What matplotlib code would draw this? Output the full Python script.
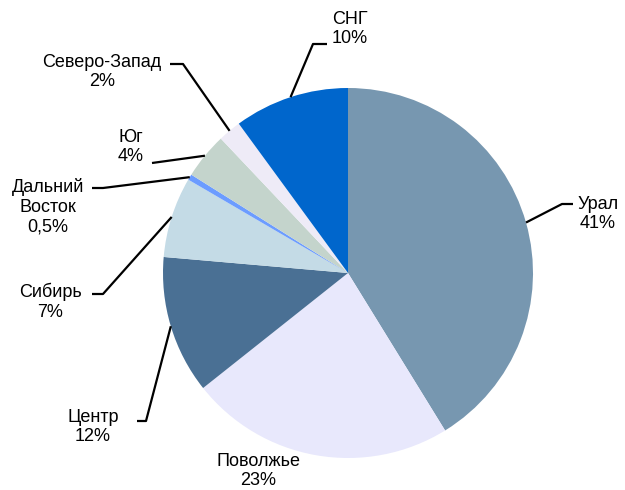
import numpy as np
import matplotlib
matplotlib.use("Agg")
import matplotlib.pyplot as plt

plt.rcParams['font.family'] = ['Liberation Sans', 'DejaVu Sans']

regions = ["Урал", "Поволжье", "Центр", "Сибирь", "Дальний\nВосток", "Юг", "Северо-Запад", "СНГ"]
shares = [41, 23, 12, 7, 0.5, 4, 2, 10]
share_labels = ["41%", "23%", "12%", "7%", "0,5%", "4%", "2%", "10%"]
colors = ["#7797B0", "#E8E8FC", "#4A7094", "#C4DBE6", "#6C9CFF", "#C4D4CC", "#EEEBF7", "#0066CC"]

W, H = 625, 490
fig = plt.figure(figsize=(W / 100, H / 100), dpi=100)
ax = fig.add_axes([0, 0, 1, 1])

cx, cy, R = 348, H - 273, 185
wedges, _ = ax.pie(shares, colors=colors, startangle=90, counterclock=False,
                   center=(cx, cy), radius=R, wedgeprops=dict(linewidth=0),
                   frame=True)
ax.set_xlim(0, W)
ax.set_ylim(0, H)
ax.set_aspect('equal')
ax.axis('off')

# label layout (pixel coords, y from top): text center, elbow point, line end
layout = [
    ((598, 214), (562, 204), (573, 204)),   # Урал
    ((258, 471), None, None),               # Поволжье
    ((93, 427), (146, 421), (137, 421)),    # Центр
    ((50, 302), (103, 294), (92, 294)),     # Сибирь
    ((48, 207), (103, 188), (92, 188)),     # Дальний Восток
    ((131, 147), (152, 163), (152, 163)),   # Юг
    ((102, 72), (183, 64), (170, 64)),      # Северо-Запад
    ((350, 29), (313, 44), (327, 44)),      # СНГ
]

for w, name, pct, (tpos, elbow, end) in zip(wedges, regions, share_labels, layout):
    ax.text(tpos[0], H - tpos[1], f"{name}\n{pct}", ha='center', va='center',
            fontsize=13, linespacing=1.22, color='black')
    if elbow is not None:
        th = np.deg2rad((w.theta1 + w.theta2) / 2)
        sx, sy = cx + R * np.cos(th), cy + R * np.sin(th)
        ax.plot([sx, elbow[0], end[0]], [sy, H - elbow[1], H - end[1]],
                color='black', lw=1.6, solid_capstyle='butt', zorder=5)

fig.savefig("out.png", dpi=100)
